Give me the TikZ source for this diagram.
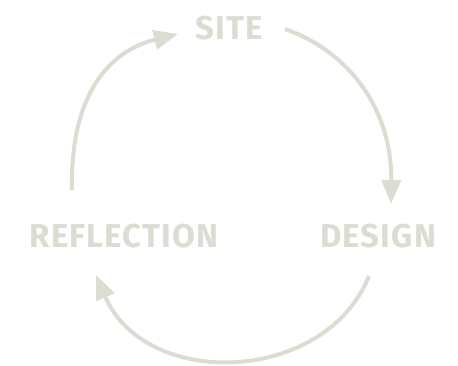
\documentclass[tikz,border=0pt]{standalone}
\usepackage{fontspec}
\setmainfont{Fira Sans}
\usetikzlibrary{arrows.meta}
\definecolor{cyc}{RGB}{220,220,210}
\newfontfamily\labfont[LetterSpace=3.5]{Fira Sans}
\tikzset{
  lab/.style={anchor=base, text=cyc, inner sep=0pt, font=\labfont\bfseries\fontsize{33}{33}\selectfont},
  cycarrow/.style={draw=cyc, line width=4pt, -{Triangle[length=24pt,width=19pt]}}
}
\begin{document}
\begin{tikzpicture}[x=1pt,y=-1pt]
\useasboundingbox (0,0) rectangle (458,365);
\node[lab] (site) at (229,39) {SITE};
\node[lab] (refl) at (124,247) {REFLECTION};
\node[lab] (design) at (378,247) {DESIGN};
\coordinate (a1s) at (72,190);
\coordinate (a1e) at (178,34);
\coordinate (a2s) at (285,29);
\coordinate (a2e) at (391,204);
\coordinate (a3s) at (369,276);
\coordinate (a3e) at (96,275);
\draw[cycarrow] (a1s) .. controls (70,100) and (105,52) .. (a1e);
\draw[cycarrow] (a2s) .. controls (350,52) and (392,110) .. (a2e);
\draw[cycarrow] (a3s) .. controls (325,385) and (145,390) .. (a3e);
\end{tikzpicture}
\end{document}
